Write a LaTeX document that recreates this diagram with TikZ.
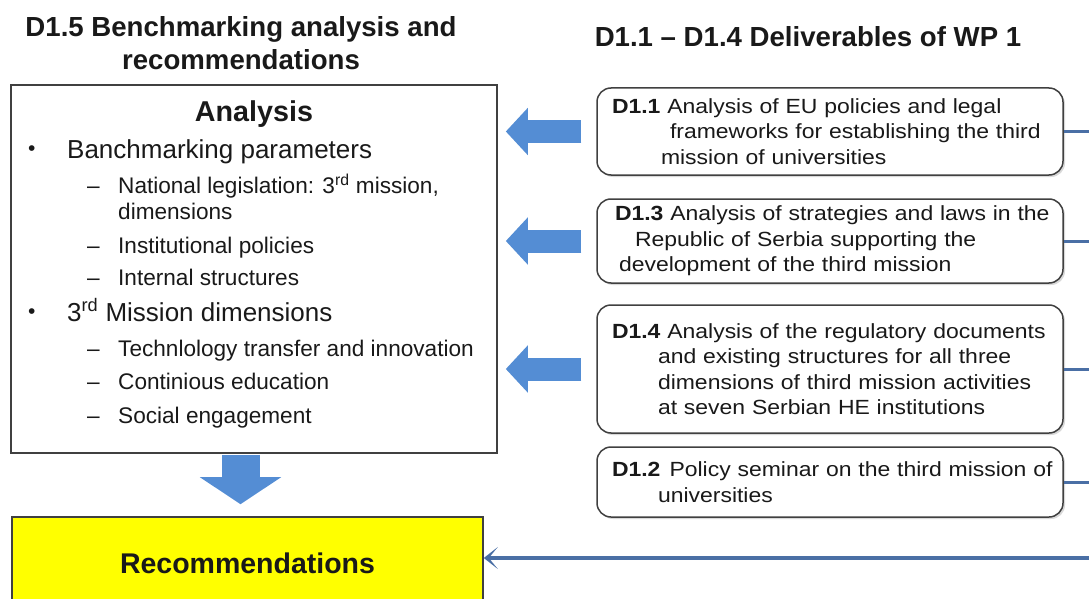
\documentclass[tikz,border=0pt]{standalone}
\usepackage{fontspec}
\setmainfont{Liberation Sans}
\newfontfamily\boxfont{Liberation Sans}[FakeStretch=1.12]
\usetikzlibrary{arrows.meta,shadows}

\definecolor{arrowblue}{RGB}{84,141,212}
\definecolor{linkblue}{RGB}{74,111,165}
\definecolor{framegray}{RGB}{64,64,64}
\definecolor{recyellow}{RGB}{255,255,0}

\newcommand{\itembul}{\makebox[39pt][l]{\fontsize{21}{21}\selectfont\raisebox{3pt}{\textbullet}}}
\newcommand{\itemdash}{\makebox[31pt][l]{--}}

\tikzset{
	% headings, frames and the two kinds of list lines
	head/.style={anchor=base, align=center, inner sep=0, font=\fontsize{27.6}{33}\selectfont\bfseries},
	plain box/.style={draw=framegray, line width=1.6pt, inner sep=0},
	deliv box/.style={draw=framegray, line width=1.5pt, rounded corners=14pt, fill=white,
		drop shadow={opacity=0.3, shadow xshift=2pt, shadow yshift=-2pt},
		minimum width=466pt, text width=436pt, inner xsep=15pt, inner ysep=0, align=left,
		font=\boxfont\fontsize{20.5}{25.5}\selectfont},
	lvl one/.style={anchor=base west, inner sep=0, font=\fontsize{26}{30}\selectfont},
	lvl two/.style={anchor=base west, inner sep=0, font=\fontsize{22.6}{26}\selectfont},
	block arrow/.style={color=arrowblue, line width=23pt, -{Triangle[length=22pt, width=46pt]}},
	link line/.style={color=linkblue, line width=3pt}
}

\begin{document}
\begin{tikzpicture}[x=1pt, y=-1pt, text=black!90]
\useasboundingbox (0,0) rectangle (1089,599);

% headings (base sits on the last line)
\node[head] (lefthead) at (241,70) {D1.5 Benchmarking analysis and\\recommendations};
\node[head] (righthead) at (808,47) {D1.1 -- D1.4 Deliverables of WP 1};

% analysis frame and its list
\node[plain box, minimum width=486pt, minimum height=368pt] (ana) at (254,269) {};
\node[anchor=base, inner sep=0, font=\fontsize{28.7}{30}\selectfont\bfseries] (anatitle) at (254,122) {Analysis};
\node[lvl one] (p1) at (28,158) {\itembul Banchmarking parameters};
\node[lvl two] (p11) at (87,193) {\itemdash National legislation: 3\textsuperscript{rd} mission,};
\node[lvl two] (p11b) at (118,219) {dimensions};
\node[lvl two] (p12) at (87,253) {\itemdash Institutional policies};
\node[lvl two] (p13) at (87,285) {\itemdash Internal structures};
\node[lvl one] (p2) at (28,321) {\itembul 3\textsuperscript{rd} Mission dimensions};
\node[lvl two] (p21) at (87,356) {\itemdash Technlology transfer and innovation};
\node[lvl two] (p22) at (87,389) {\itemdash Continious education};
\node[lvl two] (p23) at (87,423) {\itemdash Social engagement};

% result box
\node[plain box, fill=recyellow, minimum width=471pt, minimum height=92pt,
	font=\fontsize{28.5}{30}\selectfont\bfseries] (rec) at (247.5,563) {Recommendations};

% deliverables of WP 1
\node[deliv box, minimum height=87pt] (d11) at (830,131.5)
	{\textbf{D1.1} Analysis of EU policies and legal\\
	\hspace*{58pt}frameworks for establishing the third\\
	\hspace*{49pt}mission of universities};
\node[deliv box, minimum height=84pt] (d13) at (830,241)
	{\mbox{\hspace*{3pt}\textbf{D1.3} Analysis of strategies and laws in the}\\
	\hspace*{23pt}Republic of Serbia supporting the\\
	\hspace*{7pt}development of the third mission};
\node[deliv box, minimum height=128pt] (d14) at (830,369)
	{\textbf{D1.4} Analysis of the regulatory documents\\
	\hspace*{46pt}and existing structures for all three\\
	\hspace*{46pt}dimensions of third mission activities\\
	\hspace*{46pt}at seven Serbian HE institutions};
\node[deliv box, minimum height=70pt] (d12) at (830,482)
	{\mbox{\textbf{D1.2}\hspace{9pt}Policy seminar on the third mission of}\\
	\hspace*{46pt}universities};

% collecting line on the right rim
\coordinate (rim) at (1095,0);
\coordinate (inlet) at (1095,558);

\draw[link line] (d11.east) -- (d11.east -| rim);
\draw[link line] (d13.east) -- (d13.east -| rim);
\draw[link line] (d14.east) -- (d14.east -| rim);
\draw[link line] (d12.east) -- (d12.east -| rim);
\draw[link line, line width=4pt, -{Stealth[length=14pt, width=22pt, inset=9pt]}]
	(inlet) -- (inlet -| rec.east);

% blue block arrows
\draw[block arrow, shorten <=15pt, shorten >=8pt] (d11.west) -- (d11.west -| ana.east);
\draw[block arrow, shorten <=15pt, shorten >=8pt] (d13.west) -- (d13.west -| ana.east);
\draw[block arrow, shorten <=15pt, shorten >=8pt] (d14.west) -- (d14.west -| ana.east);
\draw[block arrow, line width=38pt, -{Triangle[length=27pt, width=80pt]}, shorten <=1pt, shorten >=12pt]
	([xshift=-7pt]rec.north |- ana.south) -- ([xshift=-7pt]rec.north);

\end{tikzpicture}
\end{document}
